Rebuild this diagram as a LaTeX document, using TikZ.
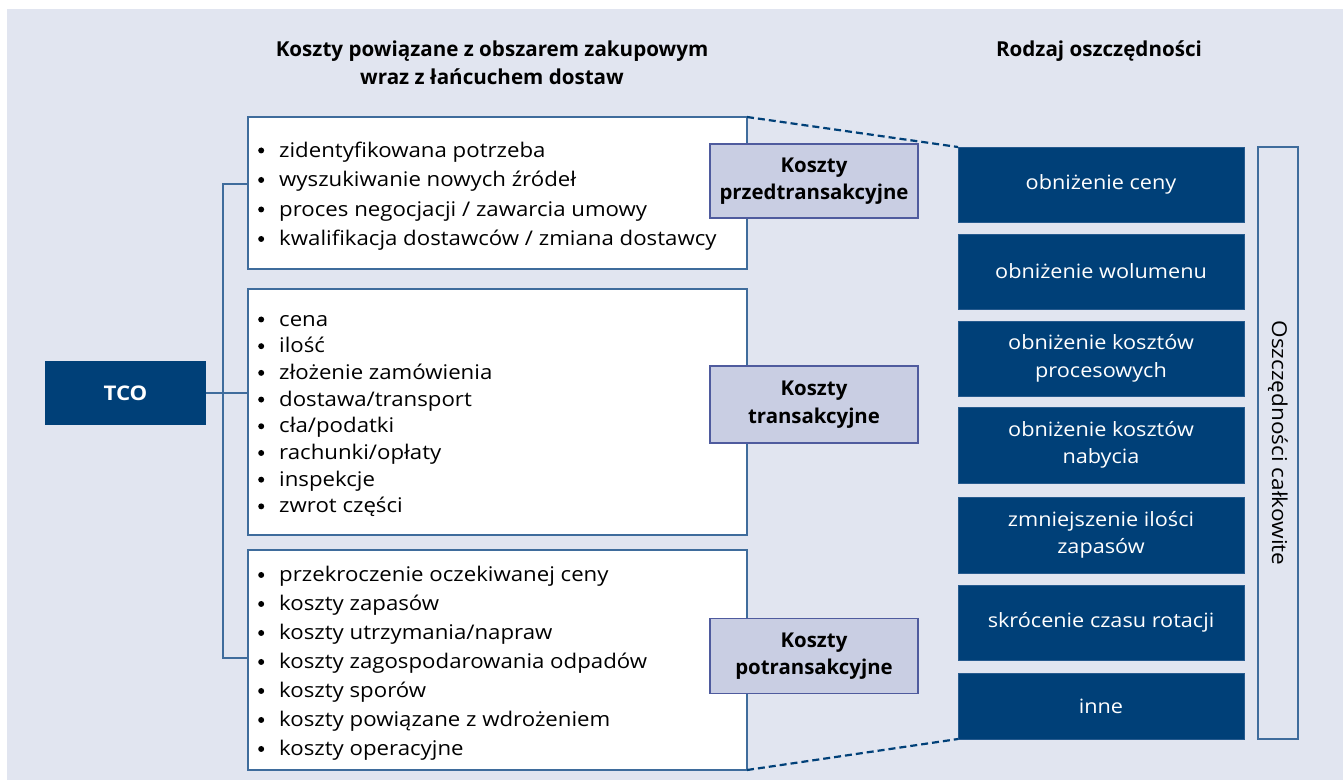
\documentclass[tikz,border=0pt]{standalone}
\usepackage{fontspec}
\setmainfont{Open Sans}
\newfontfamily\bodyfont{Open Sans}[FakeStretch=1.1]
\newfontfamily\labfont{Open Sans}[FakeStretch=1.1]
\definecolor{bgc}{RGB}{225,229,240}
\definecolor{darkc}{RGB}{0,64,120}
\definecolor{labfill}{RGB}{201,206,227}
\definecolor{labdraw}{RGB}{79,91,158}
\definecolor{boxdraw}{RGB}{63,108,156}
\newcommand{\bul}{\makebox[21pt][l]{\tikz[baseline=0pt,x=1cm,y=1cm]\fill (0.1,0.23) circle (0.105);}}
\begin{document}
\begin{tikzpicture}[x=1pt,y=-1pt,
  whitebox/.style={draw=boxdraw,line width=1.2pt,fill=white,anchor=north west,inner sep=0,outer sep=0},
  labbox/.style={draw=labdraw,line width=1.2pt,fill=labfill,minimum width=208pt,inner sep=0,outer sep=0,align=center,font=\fontsize{20.4}{27.5}\selectfont\bfseries},
  darkbox/.style={fill=darkc,draw=boxdraw!60!darkc,line width=0.6pt,minimum width=286pt,inner sep=0,outer sep=0,text=white,align=center,font=\bodyfont\fontsize{19.7}{27.5}\selectfont},
  item/.style={anchor=base west,inner sep=0,font=\bodyfont\fontsize{20.2}{27.5}\selectfont},
  head/.style={align=center,inner sep=0,font=\fontsize{20.6}{27.6}\selectfont\bfseries,anchor=base},
  conn/.style={draw=boxdraw,line width=1.2pt},
  dashconn/.style={draw=darkc,line width=2.2pt,dash pattern=on 7pt off 4pt}]
\useasboundingbox (0,0) rectangle (1343,780);
\fill[bgc] (7,9) rectangle (1343,780);
% headings
\node[head] (h1) at (492,84.3) {Koszty powiązane z obszarem zakupowym\\wraz z łańcuchem dostaw};
\node[head] (h2) at (1099,56.7) {Rodzaj oszczędności};
% TCO
\node[fill=darkc,minimum width=161pt,minimum height=64pt,inner sep=0,outer sep=0,text=white,font=\labfont\fontsize{20.2}{27.5}\selectfont\bfseries] (tco) at (125.5,393) {TCO};
% white boxes
\node[whitebox,minimum width=499pt,minimum height=152pt] (b1) at (248,117) {};
\node[whitebox,minimum width=499pt,minimum height=246pt] (b2) at (248,289) {};
\node[whitebox,minimum width=499pt,minimum height=220pt] (b3) at (248,550) {};
% connectors
\coordinate (bt) at (223,184);
\coordinate (bb) at (223,658);
\draw[conn] (bt -| b1.west) -- (bt) -- (bb) -- (bb -| b3.west);
\draw[conn] (tco.east) -- (tco.east -| b2.west);
% items box 1
\node[item] (i11) at (258,157) {\bul zidentyfikowana potrzeba};
\node[item] (i12) at (258,186.5) {\bul wyszukiwanie nowych źródeł};
\node[item] (i13) at (258,216) {\bul proces negocjacji / zawarcia umowy};
\node[item] (i14) at (258,245.5) {\bul kwalifikacja dostawców / zmiana dostawcy};
% items box 2
\node[item] (i21) at (258,326) {\bul cena};
\node[item] (i22) at (258,352.7) {\bul ilość};
\node[item] (i23) at (258,379.4) {\bul złożenie zamówienia};
\node[item] (i24) at (258,406.1) {\bul dostawa/transport};
\node[item] (i25) at (258,432.8) {\bul cła/podatki};
\node[item] (i26) at (258,459.5) {\bul rachunki/opłaty};
\node[item] (i27) at (258,486.2) {\bul inspekcje};
\node[item] (i28) at (258,512.9) {\bul zwrot części};
% items box 3
\node[item] (i31) at (258,581.5) {\bul przekroczenie oczekiwanej ceny};
\node[item] (i32) at (258,610.5) {\bul koszty zapasów};
\node[item] (i33) at (258,639.5) {\bul koszty utrzymania/napraw};
\node[item] (i34) at (258,668.5) {\bul koszty zagospodarowania odpadów};
\node[item] (i35) at (258,697.5) {\bul koszty sporów};
\node[item] (i36) at (258,726.5) {\bul koszty powiązane z wdrożeniem};
\node[item] (i37) at (258,755.5) {\bul koszty operacyjne};
% labels
\node[labbox,minimum height=74pt] (l1) at (814,181) {Koszty\\przedtransakcyjne};
\node[labbox,minimum height=77pt] (l2) at (814,404.5) {Koszty\\transakcyjne};
\node[labbox,minimum height=75pt] (l3) at (814,656) {Koszty\\potransakcyjne};
% right boxes
\node[darkbox,minimum height=75pt] (r1) at (1101,184.5) {obniżenie ceny};
\node[darkbox,minimum height=75pt] (r2) at (1101,271.5) {obniżenie wolumenu};
\node[darkbox,minimum height=75pt] (r3) at (1101,358.5) {obniżenie kosztów\\procesowych};
\node[darkbox,minimum height=76pt] (r4) at (1101,445) {obniżenie kosztów\\nabycia};
\node[darkbox,minimum height=76pt] (r5) at (1101,535) {zmniejszenie ilości\\zapasów};
\node[darkbox,minimum height=75pt] (r6) at (1101,622.5) {skrócenie czasu rotacji};
\node[darkbox,minimum height=66pt] (r7) at (1101,706) {inne};
% tall box
\node[draw=boxdraw,line width=1.2pt,minimum width=40pt,minimum height=592pt,inner sep=0,outer sep=0] (tb) at (1278,443) {};
\node[rotate=-90,inner sep=0,font=\bodyfont\fontsize{20.5}{27.5}\selectfont] (tbt) at (tb.center) {Oszczędności całkowite};
% dashed
\draw[dashconn] (b1.north east) -- (r1.north west);
\draw[dashconn] (b3.south east) -- (r7.south west);
\end{tikzpicture}
\end{document}
